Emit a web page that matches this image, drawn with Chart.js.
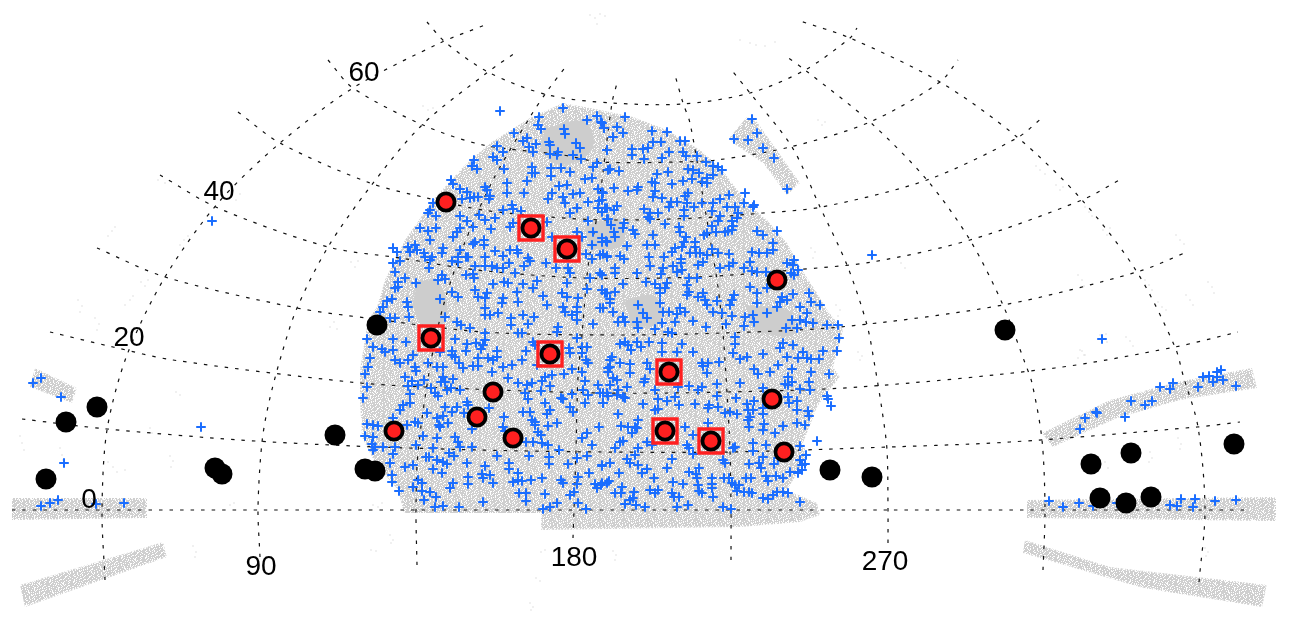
<!DOCTYPE html>
<html>
<head>
<meta charset="utf-8">
<title>Sky map</title>
<script src="https://cdn.jsdelivr.net/npm/chart.js@4/dist/chart.umd.min.js"></script>
<style>
  html, body { margin: 0; padding: 0; background: #fff; }
  canvas { display: block; }
</style>
</head>
<body>
<canvas id="skyMap" width="1290" height="626"></canvas>
<script>
// ==================== DATA (plate coordinates) ====================
const plateWidth = 1290;
const plateHeight = 626;

// survey footprint outlines
const footprintMain = [[404,513],[398,490],[387,477],[372,457],[362,437],[360,400],[360,370],[368,320],[377,307],[385,280],[405,240],[433,200],[465,165],[490,143],[530,118],[563,103],[600,110],[633,117],[667,130],[700,150],[720,167],[747,203],[767,220],[787,243],[800,267],[817,293],[827,310],[843,330],[838,350],[833,367],[840,377],[825,395],[817,407],[803,443],[807,457],[787,490],[817,503],[820,515],[800,522],[740,527],[541,530],[541,513]];
const footprintNorthSpur = [[747,117],[757,122],[800,183],[787,195],[763,163],[733,143],[730,137]];
const footprintWestStrip = [[35,368],[77,388],[72,403],[30,387]];
const footprintWestBand = [[12,498],[147,498],[147,518],[12,520]];
const footprintWestLow = [[20,585],[163,542],[167,557],[25,607]];
const footprintEastStrip = [[1042,433],[1110,400],[1177,382],[1252,368],[1257,388],[1180,400],[1117,418],[1053,447]];
const footprintEastBand = [[1027,500],[1276,497],[1276,521],[1027,518]];
const footprintEastLow = [[1025,540],[1110,567],[1267,585],[1262,607],[1143,588],[1023,553]];

// denser, nearly solid parts of the footprint
const densePatchA = [[418,280],[440,284],[446,320],[425,328],[412,305]];
const densePatchB = [[545,128],[585,122],[592,150],[560,165],[540,150]];
const densePatchC = [[625,300],[655,296],[660,322],[632,328]];
const densePatchD = [[745,305],[790,312],[792,335],[755,332]];
const densePatchE = [[585,225],[620,220],[622,245],[590,250]];

// faint stray survey dots
const strayDots = [[158,180],[162,176],[165,183],[78,300],[82,306],[80,312],[95,318],[99,324],[97,330],[141,282],[145,286],[148,280],[108,236],[112,231],[115,227],[180,245],[184,240],[188,236],[232,196],[236,200],[240,194],[351,262],[355,267],[358,261],[330,327],[334,322],[337,329],[125,305],[130,300],[133,296],[423,106],[428,110],[433,108],[590,15],[595,18],[600,14],[597,24],[605,16],[740,40],[750,43],[756,45],[765,46],[775,42],[818,120],[822,125],[825,122],[1036,166],[1040,170],[1045,174],[1056,185],[1060,190],[1063,187],[1085,207],[1089,212],[1092,216],[1103,230],[1107,235],[1110,228],[1176,235],[1180,240],[1184,244],[1078,275],[1082,280],[1084,286],[1145,280],[1149,285],[1152,290],[1186,295],[1190,300],[1193,305],[1208,282],[1212,287],[1214,293],[1158,302],[1162,307],[1166,310],[1080,350],[1084,355],[1078,358],[1126,337],[1130,341],[1133,346],[1100,335],[1106,334],[1107,342],[836,305],[840,310],[838,316],[811,248],[815,252],[813,258],[858,352],[862,356],[860,360],[901,263],[905,268],[20,436],[22,443],[24,450],[60,448],[62,455],[63,460],[108,462],[113,467],[117,472],[125,470],[170,456],[173,461],[171,467],[193,546],[196,552],[195,557],[176,392],[180,395],[150,428],[152,433],[373,505],[378,507],[382,503],[390,535],[393,540],[391,543],[230,505],[234,503],[371,550],[376,551],[613,551],[616,555],[615,560],[536,578],[540,581],[530,603],[533,607],[531,610],[541,552],[545,550],[1150,452],[1152,458],[1149,462],[1105,462],[1108,468],[1178,438],[1181,444],[1180,449],[1205,548],[1208,552],[1206,556],[1082,351],[1085,355]];

// survey targets (blue plus marks)
const plusMarks = [[500,111],[563,108],[539,117],[538,125],[541,129],[564,129],[565,134],[514,133],[587,120],[597,116],[601,122],[604,128],[523,141],[527,138],[497,146],[503,152],[529,147],[536,144],[533,152],[549,142],[550,145],[550,154],[558,152],[557,155],[576,143],[580,148],[573,155],[581,159],[607,150],[474,160],[493,157],[497,160],[472,166],[477,169],[504,169],[532,167],[532,173],[535,173],[551,168],[561,168],[551,176],[570,172],[593,167],[597,163],[608,170],[585,179],[592,178],[451,180],[453,184],[507,183],[527,181],[559,186],[567,185],[460,189],[467,192],[485,187],[487,190],[507,193],[524,193],[598,189],[603,193],[573,194],[580,193],[552,193],[548,199],[563,197],[565,203],[462,199],[470,198],[474,197],[478,197],[490,196],[489,199],[433,203],[430,210],[428,213],[436,216],[588,202],[599,201],[607,208],[598,208],[512,205],[513,209],[521,211],[503,210],[479,215],[460,216],[467,221],[485,220],[495,218],[577,208],[570,213],[588,221],[607,219],[420,228],[428,231],[436,228],[460,228],[457,232],[453,237],[473,227],[491,229],[513,223],[510,227],[547,222],[552,237],[577,232],[582,237],[593,232],[602,238],[592,245],[607,242],[430,240],[475,242],[473,244],[484,240],[484,245],[393,248],[397,252],[408,247],[410,252],[415,245],[417,250],[424,253],[425,257],[443,248],[442,253],[460,250],[495,251],[510,250],[517,250],[518,253],[503,256],[466,257],[468,257],[432,257],[430,260],[393,263],[400,261],[458,257],[452,261],[458,262],[485,257],[509,263],[528,258],[530,261],[546,263],[475,266],[485,266],[492,266],[497,268],[503,268],[524,266],[429,268],[395,272],[556,268],[568,268],[570,273],[586,254],[592,259],[600,255],[607,257],[600,273],[466,275],[473,274],[474,278],[515,273],[442,275],[438,280],[445,279],[405,278],[398,282],[416,283],[590,278],[398,287],[395,288],[493,284],[504,282],[508,283],[523,284],[533,288],[537,281],[567,283],[452,292],[475,290],[487,293],[517,292],[478,297],[485,298],[458,297],[440,299],[392,299],[387,301],[383,307],[407,302],[408,307],[503,298],[502,303],[518,302],[543,296],[562,293],[567,297],[578,298],[602,290],[607,293],[587,289],[547,305],[485,308],[563,307],[577,307],[600,308],
[625,117],[617,127],[602,123],[604,128],[613,137],[623,133],[652,131],[667,132],[653,142],[661,142],[680,141],[685,141],[607,150],[632,149],[632,155],[643,149],[648,148],[644,159],[669,152],[662,158],[683,152],[686,156],[697,156],[706,162],[713,166],[718,167],[722,170],[610,169],[619,171],[657,174],[668,172],[688,169],[693,170],[699,173],[713,175],[707,178],[683,181],[692,179],[702,182],[707,183],[652,182],[655,183],[672,184],[638,187],[637,190],[628,191],[614,188],[602,192],[655,191],[653,197],[662,198],[688,193],[685,196],[745,193],[729,195],[720,199],[602,200],[671,202],[677,202],[687,203],[702,203],[713,203],[744,203],[754,205],[753,207],[617,206],[614,210],[605,208],[602,212],[669,207],[694,207],[727,207],[735,207],[644,209],[684,210],[712,211],[738,213],[684,216],[650,213],[658,213],[720,216],[608,219],[650,219],[648,217],[718,221],[737,218],[732,221],[624,223],[611,225],[665,224],[623,228],[679,227],[712,226],[733,226],[732,230],[633,230],[614,232],[635,234],[680,232],[716,232],[725,232],[728,231],[757,231],[777,231],[763,235],[615,237],[653,235],[707,233],[704,235],[686,237],[684,242],[773,243],[602,242],[606,241],[627,246],[647,245],[655,245],[695,242],[695,247],[682,247],[675,248],[712,249],[773,250],[767,253],[759,253],[752,252],[672,252],[690,253],[696,253],[700,253],[718,253],[729,254],[603,254],[607,256],[620,256],[624,259],[649,257],[664,257],[707,255],[681,259],[681,263],[750,262],[650,266],[703,262],[698,265],[673,266],[733,263],[729,266],[720,268],[744,268],[752,271],[757,272],[766,272],[787,263],[794,260],[793,265],[798,270],[791,273],[794,275],[615,268],[615,273],[637,273],[602,275],[663,268],[661,274],[677,272],[682,270],[697,278],[689,278],[646,282],[623,284],[655,284],[667,283],[660,288],[665,288],[687,285],[689,292],[687,295],[750,287],[767,288],[615,292],[602,290],[605,293],[660,293],[698,297],[703,293],[757,293],[734,295],[732,300],[782,297],[793,294],[809,293],[811,302],[780,302],[787,300],[610,299],[610,303],[705,300],[717,301],[757,303],[660,303],[638,305],[707,305],[730,305],[777,307],[800,307],[820,305],[680,308],[603,308],
[752,119],[757,133],[734,139],[748,140],[763,148],[774,158],[787,189],
[380,312],[390,318],[395,318],[409,317],[445,317],[485,315],[490,315],[498,313],[511,318],[523,315],[534,317],[565,312],[572,315],[577,312],[457,322],[461,325],[470,328],[511,325],[528,324],[558,327],[557,332],[577,320],[593,324],[485,333],[518,333],[522,333],[367,339],[393,339],[406,342],[455,339],[485,340],[476,343],[467,344],[483,345],[533,342],[577,338],[582,347],[587,347],[373,347],[382,349],[385,352],[393,350],[466,351],[481,349],[497,351],[526,351],[535,345],[569,348],[570,353],[440,352],[452,351],[452,355],[582,353],[370,358],[413,355],[455,357],[478,358],[488,358],[497,357],[522,360],[586,360],[395,360],[400,363],[408,360],[428,363],[493,360],[368,367],[415,367],[443,367],[459,363],[463,368],[473,366],[478,366],[503,367],[512,365],[537,365],[588,363],[610,360],[365,374],[416,371],[437,367],[492,372],[564,374],[572,369],[582,372],[608,368],[405,377],[443,377],[508,378],[545,377],[453,379],[412,381],[424,380],[441,382],[518,383],[527,385],[532,383],[542,381],[552,375],[585,381],[367,387],[408,386],[418,385],[445,382],[431,388],[447,390],[451,388],[460,390],[550,386],[598,385],[363,398],[410,394],[435,393],[438,396],[525,393],[541,391],[561,398],[563,399],[572,394],[583,390],[588,395],[600,393],[607,393],[410,403],[445,407],[528,399],[545,403],[585,403],[603,403],[403,405],[400,410],[457,407],[452,412],[467,402],[468,405],[489,408],[550,410],[570,407],[573,412],[523,412],[530,412],[547,414],[427,413],[464,413],[504,417],[532,420],[535,422],[393,418],[437,418],[443,416],[548,426],[557,423],[367,424],[373,425],[378,426],[415,422],[418,423],[439,425],[440,427],[448,423],[407,425],[535,425],[503,427],[505,431],[472,429],[538,432],[599,427],[365,436],[373,437],[423,436],[437,438],[455,437],[458,442],[541,435],[582,438],[587,433],[372,444],[395,447],[416,445],[433,448],[460,447],[472,447],[526,442],[533,442],[542,443],[548,445],[559,450],[592,445],[375,447],[383,447],[373,450],[393,454],[449,453],[454,456],[497,456],[529,456],[549,457],[577,458],[587,456],[426,457],[429,457],[437,460],[443,462],[390,463],[447,464],[467,463],[509,463],[549,464],[568,464],[602,466],[610,463],[405,467],[413,465],[433,469],[485,466],[509,469],[589,473],[392,475],[442,473],[482,474],[490,475],[483,478],[518,473],[468,477],[578,477],[392,482],[418,480],[513,482],[518,480],[522,481],[531,480],[542,478],[561,480],[563,483],[493,483],[468,484],[577,484],[595,484],[601,485],[607,483],[413,487],[422,483],[453,483],[450,488],[597,488],[399,491],[422,491],[430,492],[519,493],[526,493],[545,494],[570,495],[574,492],[424,500],[436,497],[526,501],[483,502],[557,503],[578,503],[435,507],[443,506],[459,507],[543,509],[550,507],[586,509],
[613,312],[623,317],[618,322],[625,322],[643,313],[647,318],[637,322],[663,312],[669,312],[677,314],[685,312],[693,321],[662,323],[675,322],[713,312],[722,313],[732,316],[745,317],[753,315],[767,313],[807,313],[726,324],[744,326],[754,322],[792,320],[800,320],[806,322],[813,323],[827,325],[838,325],[638,328],[655,329],[668,332],[672,333],[706,327],[786,328],[797,328],[839,338],[735,337],[625,342],[620,344],[628,345],[637,342],[649,342],[662,343],[682,344],[735,344],[783,343],[780,348],[793,345],[641,347],[631,350],[662,352],[677,352],[693,352],[733,353],[763,354],[803,352],[823,351],[837,351],[612,357],[740,359],[747,357],[787,357],[798,358],[807,358],[811,359],[819,359],[620,363],[630,364],[647,363],[650,369],[702,363],[708,363],[719,362],[778,365],[610,367],[630,373],[703,366],[707,373],[754,369],[758,374],[770,372],[792,369],[811,372],[829,374],[608,372],[613,378],[617,380],[645,379],[644,382],[788,377],[792,382],[717,384],[740,383],[785,384],[809,382],[610,385],[627,387],[618,390],[655,390],[678,387],[689,386],[698,390],[702,387],[800,389],[810,390],[788,385],[763,388],[603,393],[608,396],[617,395],[623,397],[625,398],[717,396],[736,398],[675,397],[658,399],[667,401],[754,401],[788,397],[827,396],[828,399],[603,403],[643,404],[679,405],[695,404],[709,405],[718,407],[747,404],[797,401],[789,403],[831,406],[655,410],[658,409],[708,408],[748,410],[753,410],[763,408],[797,410],[725,413],[730,412],[737,414],[618,414],[750,417],[763,414],[808,411],[809,416],[748,420],[638,420],[621,426],[628,427],[635,427],[708,423],[749,427],[764,424],[783,426],[797,423],[805,425],[632,433],[637,428],[685,427],[763,430],[620,442],[623,441],[647,442],[652,445],[693,435],[775,433],[817,441],[615,448],[638,448],[687,445],[689,448],[693,454],[733,448],[735,447],[753,443],[753,451],[766,445],[800,446],[627,459],[635,455],[672,459],[723,460],[725,463],[763,457],[778,458],[806,455],[602,465],[630,463],[638,465],[647,469],[667,468],[699,468],[749,464],[759,463],[774,464],[800,460],[802,465],[805,464],[761,468],[642,473],[619,473],[689,472],[696,474],[790,472],[798,472],[802,470],[654,478],[697,478],[712,478],[724,478],[729,478],[746,478],[751,478],[766,476],[776,476],[783,478],[798,473],[768,481],[609,481],[602,483],[673,482],[683,484],[712,484],[732,483],[735,485],[739,485],[622,487],[650,490],[658,490],[698,485],[712,488],[737,491],[699,491],[744,492],[749,492],[752,493],[773,495],[777,492],[783,492],[788,493],[615,493],[621,493],[634,492],[655,493],[672,493],[674,497],[679,497],[702,493],[713,497],[633,498],[630,500],[763,498],[768,499],[625,504],[636,505],[645,507],[677,507],[688,505],[723,507],[731,509],[800,502],
[212,221],[33,383],[41,378],[61,397],[64,463],[41,506],[50,503],[58,500],[96,504],[124,503],[201,427],
[1049,501],[1063,507],[1079,503],[1093,506],[1117,503],[1170,505],[1177,506],[1181,499],[1195,499],[1193,507],[1215,501],[1236,500],
[1080,429],[1085,418],[1096,412],[1097,413],[1125,417],[1131,401],[1145,405],[1152,401],[1160,387],[1170,389],[1173,383],[1198,387],[1203,377],[1209,376],[1217,372],[1221,370],[1213,382],[1217,377],[1223,380],[1236,386],[872,255],[1102,339]];

// detections
const undetectedSources = [[377,325],[1005,330],[97,407],[66,422],[335,435],[46,479],[215,468],[222,474],[365,469],[375,471],[830,470],[872,477],[1131,453],[1091,464],[1234,444],[1100,498],[1126,503],[1151,497]];
const detectedSources = [[446,202],[531,228],[567,249],[777,280],[431,338],[550,354],[669,372],[772,399],[493,392],[477,417],[513,438],[394,431],[665,431],[711,441],[784,452]];
const boxedSources = [[531,228],[567,249],[431,338],[550,354],[669,372],[665,431],[711,441]];

// meridians
const meridian60 = [[105,580],[102,510],[107,430],[127,355],[165,277],[218,203],[280,143],[353,88],[440,43],[485,25]];
const meridian90 = [[260,557],[258,508],[262,442],[269,402],[282,353],[297,308],[328,247],[370,187],[422,125],[488,72],[515,53]];
const meridian120 = [[417,565],[416,510],[418,452],[430,367],[443,307],[463,247],[493,180],[530,117],[548,90],[567,65]];
const meridian180Left = [[573,538],[574,510],[576,450],[578,377],[582,335],[588,267],[598,210],[612,103],[617,83]];
const meridian210 = [[731,560],[731,510],[730,450],[727,393],[723,333],[718,287],[712,250],[703,197],[690,123],[683,103],[675,75]];
const meridian270 = [[888,543],[888,510],[887,450],[882,410],[875,367],[867,325],[847,265],[820,207],[792,147],[750,93],[730,68]];
const meridian300 = [[1043,570],[1045,510],[1042,440],[1032,383],[1025,363],[1003,305],[970,240],[927,180],[870,122],[805,70],[787,57]];
const meridian330 = [[1199,582],[1205,510],[1198,427],[1183,375],[1175,347],[1137,272],[1082,200],[1017,137],[940,82],[850,38],[800,21]];

// parallels
const parallel0 = [[12,510],[260,510],[574,510],[888,510],[1245,510]];
const parallel10 = [[22,419],[107,429],[240,440],[353,446],[480,450],[603,452],[730,452],[860,448],[1010,442],[1197,427],[1240,422]];
const parallel20 = [[50,332],[113,347],[173,360],[350,382],[425,387],[600,393],[727,392],[860,387],[1055,368],[1175,347],[1238,332]];
const parallel30 = [[97,248],[165,277],[297,308],[367,318],[483,332],[610,335],[723,333],[840,327],[1003,305],[1137,272],[1187,252]];
const parallel40 = [[160,175],[218,208],[328,247],[400,258],[477,270],[583,278],[697,277],[793,270],[872,262],[970,240],[1082,200],[1123,178]];
const parallel50 = [[238,112],[280,143],[370,183],[427,198],[483,210],[550,217],[607,220],[697,218],[763,213],[822,207],[927,180],[1017,138],[1043,117]];
const parallel60 = [[328,60],[353,88],[423,125],[483,145],[563,155],[600,162],[677,162],[717,160],[790,147],[870,122],[940,82],[958,60]];
const parallel70 = [[427,22],[445,42],[488,72],[548,95],[612,103],[683,104],[750,93],[805,70],[850,38],[857,28]];

// axis labels
const axisLabels = ["60", "40", "20", "0", "90", "180", "270"];
const axisLabelX = [364, 219, 129, 89, 261, 574, 885];
const axisLabelY = [73, 192, 338, 500, 567, 558, 562];

// ==================== STYLE ====================
const BLUE = "#1a6dff";
const RED = "#ff2020";
const GREY = "#cfcfcf";

// hand-typed speckle tile for the footprint fill, "." is a white fleck
const speckleRows = [
  "##..####.###.####..##.##",
  "#####.#####.#####.####.#",
  ".###.###..######.###.###",
  "##.####.####..#.########",
  "##.#.######.######.##..#",
  "#..####.#.######.###.###",
  "#.##.#####.##.#.#####.##",
  "###.##.#.#####..####.###",
  "##.#####.#.#.##.#.######",
  "#####.#.#####.##.###..##",
  "..#######.####.####.####",
  "###.#.####..#.####.###.#",
  "#.######.#.#####.#.#.###",
  "#.#.######.##.#.######.#",
  "####.##.##.#.#####..#.##",
  "##.#.######.###.#.######",
  "####..#.#.#####.####.###",
  ".####.#####.#.#.###..###",
  "###.###.#.#.######.###.#",
  "#.#####..######.#.#.####",
  "#.###.####.#.######.##.#",
  "#####.###.######.###.#.#",
  "##.##.##.#.####.#####.##",
  "#.####.###.##.#####.####"
];

function makeSpeckle() {
  const tile = document.createElement("canvas");
  tile.width = speckleRows[0].length;
  tile.height = speckleRows.length;
  const c = tile.getContext("2d");
  c.fillStyle = GREY;
  c.fillRect(0, 0, tile.width, tile.height);
  c.fillStyle = "#ffffff";
  speckleRows.forEach((row, y) => {
    [...row].forEach((ch, x) => { if (ch === ".") c.fillRect(x, y, 1, 1); });
  });
  return c.createPattern(tile, "repeat");
}

const toPoints = list => list.map(p => ({ x: p[0], y: p[1] }));

function shapeDataset(list, pattern) {
  return {
    data: toPoints(list),
    showLine: true,
    fill: "shape",
    backgroundColor: pattern,
    // white dashed edge breaks the outline up so it reads as scattered dots
    borderColor: "#fff",
    borderWidth: 3,
    borderDash: [1, 2],
    pointRadius: 0,
    order: 50
  };
}

function patchDataset(list) {
  return {
    data: toPoints(list),
    showLine: true,
    fill: "shape",
    backgroundColor: "#cdcdcd",
    borderColor: "#cdcdcd",
    borderWidth: 0,
    tension: 0.4,
    pointRadius: 0,
    order: 48
  };
}

function gridDataset(list) {
  return {
    data: toPoints(list),
    showLine: true,
    fill: false,
    borderColor: "#111",
    borderWidth: 1.2,
    borderDash: [3.5, 7],
    tension: 0.3,
    pointRadius: 0,
    order: 40
  };
}

// ==================== CHART ====================
const labelPlugin = {
  id: "axisLabels",
  afterDatasetsDraw(chart) {
    const { ctx, scales } = chart;
    ctx.save();
    ctx.font = '28px "Liberation Sans", sans-serif';
    ctx.fillStyle = "#000";
    ctx.textAlign = "center";
    ctx.textBaseline = "middle";
    axisLabels.forEach((t, i) => {
      ctx.fillText(t, scales.x.getPixelForValue(axisLabelX[i]), scales.y.getPixelForValue(axisLabelY[i]));
    });
    ctx.restore();
  }
};

const speckle = makeSpeckle();

new Chart(document.getElementById("skyMap"), {
  type: "scatter",
  data: {
    datasets: [
      ...[footprintMain, footprintNorthSpur, footprintWestStrip, footprintWestBand, footprintWestLow,
          footprintEastStrip, footprintEastBand, footprintEastLow].map(f => shapeDataset(f, speckle)),
      ...[densePatchA, densePatchB, densePatchC, densePatchD, densePatchE].map(patchDataset),
      { data: toPoints(strayDots), pointStyle: "circle", pointRadius: 0.8, pointBorderWidth: 0, backgroundColor: "#dcdcdc", order: 45 },
      ...[meridian60, meridian90, meridian120, meridian180Left, meridian210, meridian270, meridian300, meridian330,
          parallel0, parallel10, parallel20, parallel30, parallel40, parallel50, parallel60, parallel70].map(gridDataset),
      { data: toPoints(plusMarks), pointStyle: "cross", pointRadius: 4.8, pointBorderWidth: 2, borderColor: BLUE, order: 30 },
      { data: toPoints(boxedSources), pointStyle: "rect", pointRadius: 17, pointBorderWidth: 3.4, borderColor: RED, backgroundColor: "transparent", order: 20 },
      { data: toPoints(undetectedSources), pointStyle: "circle", pointRadius: 10.5, pointBorderWidth: 0, backgroundColor: "#000", order: 10 },
      { data: toPoints(detectedSources), pointStyle: "circle", pointRadius: 8.6, pointBorderWidth: 3.8, borderColor: "#000", backgroundColor: RED, order: 5 }
    ]
  },
  options: {
    responsive: false,
    animation: false,
    events: [],
    layout: { padding: 0, autoPadding: false },
    plugins: { legend: { display: false }, tooltip: { enabled: false } },
    scales: {
      x: { type: "linear", min: 0, max: plateWidth, display: false },
      y: { type: "linear", min: 0, max: plateHeight, reverse: true, display: false }
    }
  },
  plugins: [labelPlugin]
});
</script>
</body>
</html>
